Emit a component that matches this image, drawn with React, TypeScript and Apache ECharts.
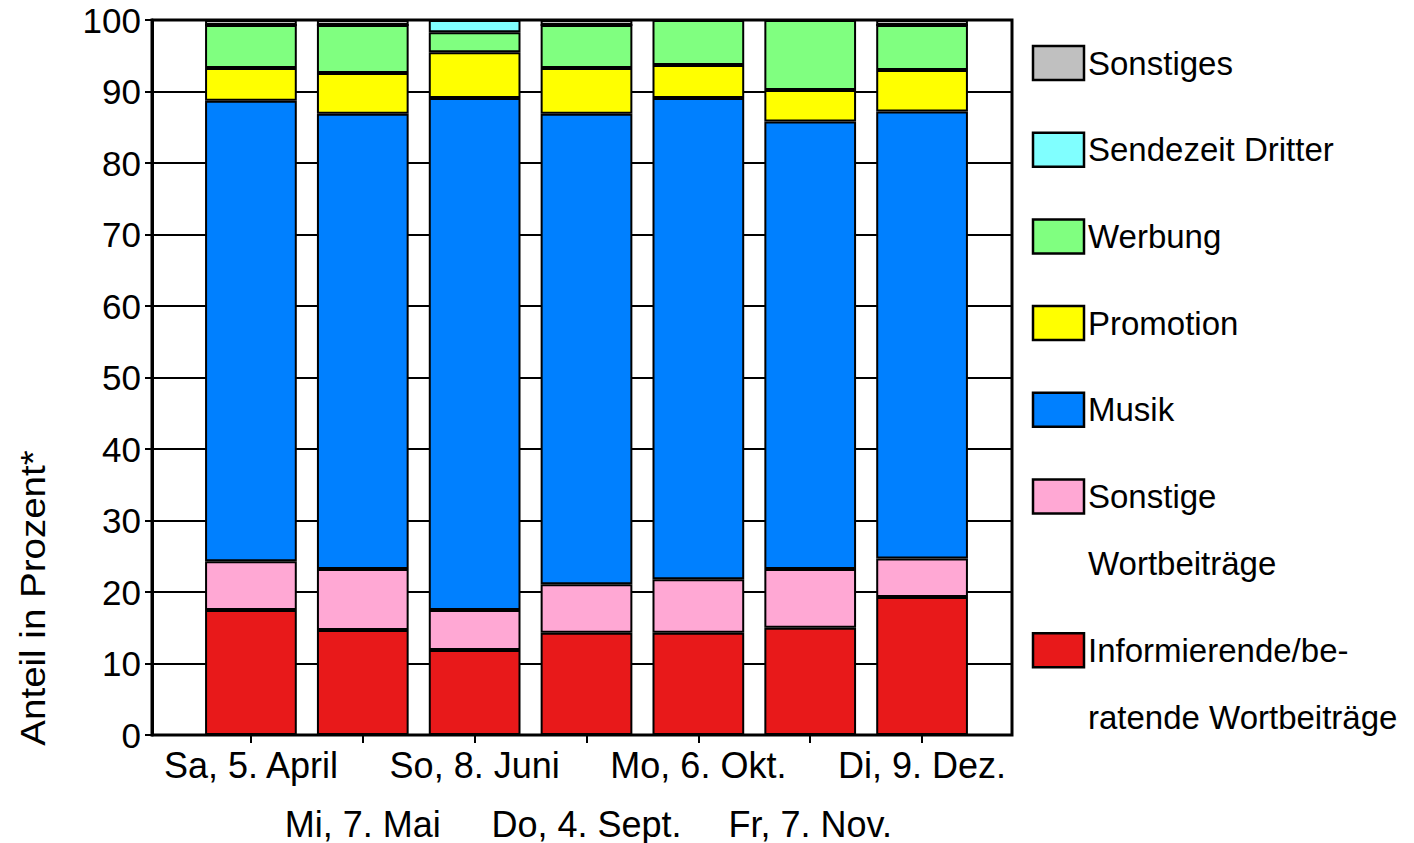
import React, { useEffect, useRef } from "react";
import * as echarts from "echarts";

const categories = [
  "Sa, 5. April",
  "Mi, 7. Mai",
  "So, 8. Juni",
  "Do, 4. Sept.",
  "Mo, 6. Okt.",
  "Fr, 7. Nov.",
  "Di, 9. Dez.",
];

const informierende = [17.5, 14.7, 11.9, 14.3, 14.3, 15.0, 19.3];
const sonstigeWort = [6.8, 8.5, 5.6, 6.8, 7.5, 8.2, 5.4];
const musik = [64.4, 63.7, 71.6, 65.8, 67.3, 62.6, 62.5];
const promotion = [4.6, 5.7, 6.4, 6.4, 4.6, 4.4, 5.8];
const werbung = [6.0, 6.7, 2.8, 6.0, 6.3, 9.8, 6.3];
const sendezeit = [0, 0, 1.7, 0, 0, 0, 0];
const sonstiges = [0.7, 0.7, 0, 0.7, 0, 0, 0.7];

const yTicks = { min: 0, max: 100, interval: 10 };

const seriesDefs = [
  { name: "Informierende/be-\nratende Wortbeiträge", data: informierende, color: "#E8191A" },
  { name: "Sonstige\nWortbeiträge", data: sonstigeWort, color: "#FFA8D4" },
  { name: "Musik", data: musik, color: "#0080FF" },
  { name: "Promotion", data: promotion, color: "#FFFF00" },
  { name: "Werbung", data: werbung, color: "#80FF80" },
  { name: "Sendezeit Dritter", data: sendezeit, color: "#80FFFF" },
  { name: "Sonstiges", data: sonstiges, color: "#C0C0C0" },
];

const legendOrder = [6, 5, 4, 3, 2, 1, 0];
const FONT = "Liberation Sans, Arial, sans-serif";

export default function App() {
  const ref = useRef<HTMLDivElement>(null);
  useEffect(() => {
    if (!ref.current) return;
    const chart = echarts.init(ref.current, null, { renderer: "svg" });

    const legendGraphics: any[] = [];
    let y = 63;
    legendOrder.forEach((idx) => {
      const s = seriesDefs[idx];
      const lines = s.name.split("\n");
      legendGraphics.push({
        type: "rect",
        shape: { x: 1033, y: y - 17, width: 51, height: 34 },
        style: { fill: s.color, stroke: "#000", lineWidth: 2.5 },
      });
      lines.forEach((ln, k) => {
        legendGraphics.push({
          type: "text",
          x: 1088,
          y: y + k * 67,
          style: {
            text: ln,
            font: `33px ${FONT}`,
            fill: "#000",
            textAlign: "left",
            textVerticalAlign: "middle",
          },
        });
      });
      y += 86.7 + (lines.length - 1) * 67;
    });

    chart.setOption({
      animation: false,
      grid: [
        { left: 152, right: 402, top: 20, bottom: 108, show: true, borderColor: "#000", borderWidth: 3, backgroundColor: "transparent", outerBoundsMode: "none", containLabel: false },
        { left: 195, right: 436, top: 20, bottom: 108, outerBoundsMode: "none", containLabel: false },
      ],
      xAxis: [
        { gridIndex: 0, type: "category", data: categories, show: false },
        {
          gridIndex: 1,
          type: "category",
          data: categories,
          axisLine: { show: false },
          axisTick: { show: true, alignWithLabel: true, length: 8, lineStyle: { color: "#000", width: 2 } },
          axisLabel: {
            interval: 0,
            margin: 12,
            color: "#000",
            fontSize: 36,
            fontFamily: FONT,
            lineHeight: 36,
            formatter: (v: string, i: number) => (i % 2 === 1 ? "{g| }\n{t|" + v + "}" : "{t|" + v + "}"),
            rich: {
              g: { fontSize: 10, lineHeight: 59 },
              t: { fontSize: 36, lineHeight: 36, fontFamily: FONT, color: "#000" },
            },
          },
        },
      ],
      yAxis: [
        {
          gridIndex: 0,
          type: "value",
          min: yTicks.min,
          max: yTicks.max,
          interval: yTicks.interval,
          axisLine: { show: true, lineStyle: { color: "#000", width: 3 } },
          axisTick: { show: true, length: 7, lineStyle: { color: "#000", width: 2 } },
          axisLabel: { color: "#000", fontSize: 35, fontFamily: FONT, margin: 11 },
          splitLine: { show: true, lineStyle: { color: "#000", width: 2 } },
        },
        { gridIndex: 1, type: "value", min: yTicks.min, max: yTicks.max, show: false, splitLine: { show: false } },
      ],
      series: seriesDefs.map((s) => ({
        name: s.name,
        type: "bar",
        xAxisIndex: 1,
        yAxisIndex: 1,
        stack: "total",
        barWidth: "82%",
        data: s.data,
        itemStyle: { color: s.color, borderColor: "#000", borderWidth: 2 },
      })),
      graphic: [
        {
          type: "text",
          x: 33,
          y: 598,
          rotation: Math.PI / 2,
          scaleX: 1.1,
          style: {
            text: "Anteil in Prozent*",
            font: `35px ${FONT}`,
            fill: "#000",
            textAlign: "center",
            textVerticalAlign: "middle",
          },
        },
        ...legendGraphics,
      ],
    });
    return () => chart.dispose();
  }, []);
  return <div ref={ref} style={{ width: 1414, height: 843, position: "absolute", left: 0, top: 0 }} />;
}
